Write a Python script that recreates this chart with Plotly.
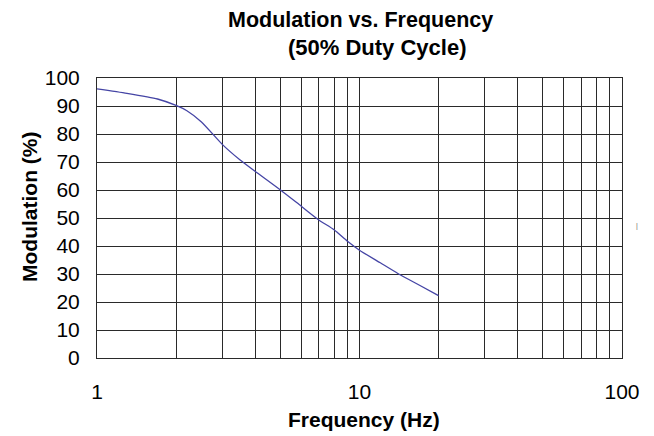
import plotly.graph_objects as go

freq_hz = [1, 1.3, 1.7, 2.0, 2.2, 2.5, 3.0, 3.5, 4.0, 5.0, 6.0, 7.0, 8.0, 9.0, 10, 12, 14, 17, 20]
modulation_pct = [96.1, 94.5, 92.5, 90.2, 88.3, 84.3, 76.3, 70.8, 66.7, 60.0, 54.2, 49.3, 45.8, 41.7, 38.5, 34.0, 30.2, 25.9, 22.3]

x_grid_vals = [1, 2, 3, 4, 5, 6, 7, 8, 9, 10, 20, 30, 40, 50, 60, 70, 80, 90, 100]
x_tick_text = ["1"] + [""] * 8 + ["10"] + [""] * 8 + ["100"]
y_tick_vals = [0, 10, 20, 30, 40, 50, 60, 70, 80, 90, 100]

FONT = "Liberation Sans, Arial, sans-serif"

# the page body has an 8px default margin; positions below are page pixels
OFF = 8
L, R, T, B = 97, 622, 78, 358  # plot area on page

fig = go.Figure()
fig.add_trace(go.Scatter(
    x=freq_hz, y=modulation_pct, mode="lines",
    line=dict(color="#4545a5", width=1.3, shape="spline", smoothing=0.6),
    hoverinfo="skip", showlegend=False,
))

fig.update_layout(
    width=654, height=436,
    margin=dict(l=L - OFF, r=654 - (R - OFF), t=T - OFF, b=436 - (B - OFF)),
    paper_bgcolor="white", plot_bgcolor="white",
    font=dict(family=FONT, color="black"),
    xaxis=dict(
        type="log", range=[0, 2], automargin=False,
        tickmode="array", tickvals=x_grid_vals, ticktext=x_tick_text,
        showgrid=True, gridcolor="#2a2a2a", gridwidth=1,
        showline=True, linecolor="#2a2a2a", linewidth=1, mirror=True,
        ticks="", ticklabelstandoff=15,
        tickfont=dict(size=21, family=FONT, color="black"),
        zeroline=False,
    ),
    yaxis=dict(
        range=[0, 100], automargin=False,
        tickmode="array", tickvals=y_tick_vals,
        showgrid=True, gridcolor="#2a2a2a", gridwidth=1,
        showline=True, linecolor="#2a2a2a", linewidth=1, mirror=True,
        ticks="", ticklabelstandoff=12,
        tickfont=dict(size=21, family=FONT, color="black"),
        zeroline=False,
    ),
    annotations=[
        dict(text="<b>Modulation vs. Frequency</b>", x=360, y=20, showarrow=False, font=dict(size=21.5, family=FONT)),
        dict(text="<b>(50% Duty Cycle)</b>", x=377, y=48, showarrow=False, font=dict(size=22, family=FONT)),
        dict(text="<b>Frequency (Hz)</b>", x=364, y=419, showarrow=False, font=dict(size=21, family=FONT)),
        dict(text="<b>Modulation (%)</b>", x=29, y=207, showarrow=False, textangle=-90, font=dict(size=21, family=FONT)),
        dict(text="|", x=637, y=226, showarrow=False, font=dict(size=7, family=FONT, color="#666666")),
    ],
)

# convert page-pixel positions of annotations to paper coordinates
pw = R - L
ph = B - T
for a in fig.layout.annotations:
    a.xref = "paper"; a.yref = "paper"
    a.x = (a.x - L) / pw
    a.y = (B - a.y) / ph
    a.xanchor = "center"; a.yanchor = "middle"

fig.write_html("out.html")
